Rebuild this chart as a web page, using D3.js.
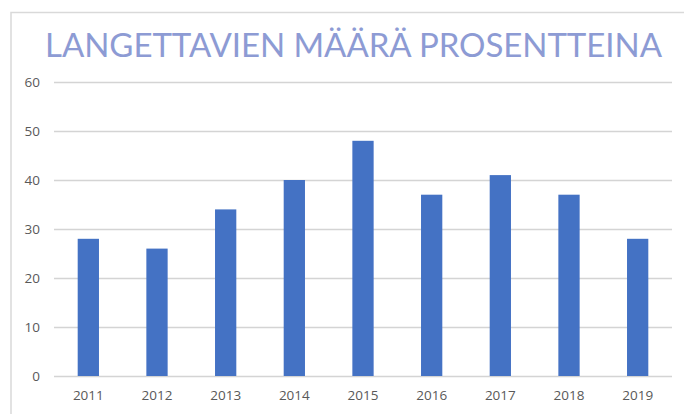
<!DOCTYPE html>
<html>
<head>
<meta charset="utf-8">
<script src="https://cdn.jsdelivr.net/npm/d3@7"></script>
<style>
  body { margin: 0; background: #fff; }
  .axis text { font-family: "Open Sans", "Liberation Sans", sans-serif; font-size: 13.5px; fill: #595959; }
  .title { font-family: Lato, "Open Sans", sans-serif; font-weight: 400; }
</style>
</head>
<body>
<div id="chart"></div>
<script>
const years = ['2011','2012','2013','2014','2015','2016','2017','2018','2019']
const percentages = [28, 26, 34, 40, 48, 37, 41, 37, 28]
const yTicks = [0, 10, 20, 30, 40, 50, 60]
const chartTitle = 'LANGETTAVIEN MÄÄRÄ PROSENTTEINA'

var fullWidth = 684;
var fullHeight = 414;
var plot = {left: 54, right: 672, top: 82, bottom: 376};

var svg = d3.select('#chart')
  .append('svg')
    .attr('width', fullWidth)
    .attr('height', fullHeight);

svg.append('rect')
  .attr('width', fullWidth)
  .attr('height', fullHeight)
  .attr('fill', '#fff');

// chart frame (only left and top edges show)
svg.append('path')
  .attr('d', 'M11,' + fullHeight + 'V12.5H' + fullWidth)
  .attr('fill', 'none')
  .attr('stroke', '#d9d9d9')
  .attr('stroke-width', 1.5);

svg.append('text')
  .attr('class', 'title')
  .attr('x', 45)
  .attr('y', 56.5)
  .attr('font-size', 33)
  .attr('fill', '#8d9bd4')
  .attr('textLength', 617)
  .attr('lengthAdjust', 'spacing')
  .text(chartTitle);

var x = d3.scaleBand()
  .domain(years)
  .range([plot.left, plot.right])
  .paddingInner(0.69)
  .paddingOuter(0.345);

var y = d3.scaleLinear()
  .domain([0, 60])
  .range([plot.bottom, plot.top]);

// gridlines + y labels
var yAxis = svg.append('g')
  .attr('class', 'axis axis--y')
  .attr('transform', 'translate(' + plot.left + ',0)')
  .call(d3.axisLeft(y).tickValues(yTicks).tickSize(-(plot.right - plot.left)).tickPadding(14));
yAxis.select('.domain').remove();
yAxis.selectAll('.tick line').attr('stroke', '#d4d4d4').attr('stroke-width', 1.5);

svg.selectAll('.bar')
  .data(percentages)
  .enter().append('rect')
    .attr('class', 'bar')
    .attr('x', function(d, i) { return x(years[i]); })
    .attr('y', function(d) { return y(d); })
    .attr('width', x.bandwidth())
    .attr('height', function(d) { return y(0) - y(d); })
    .attr('fill', '#4472c4');

var xAxis = svg.append('g')
  .attr('class', 'axis axis--x')
  .attr('transform', 'translate(0,' + plot.bottom + ')')
  .call(d3.axisBottom(x).tickSize(0).tickPadding(14));
xAxis.select('.domain').remove();
</script>
</body>
</html>
